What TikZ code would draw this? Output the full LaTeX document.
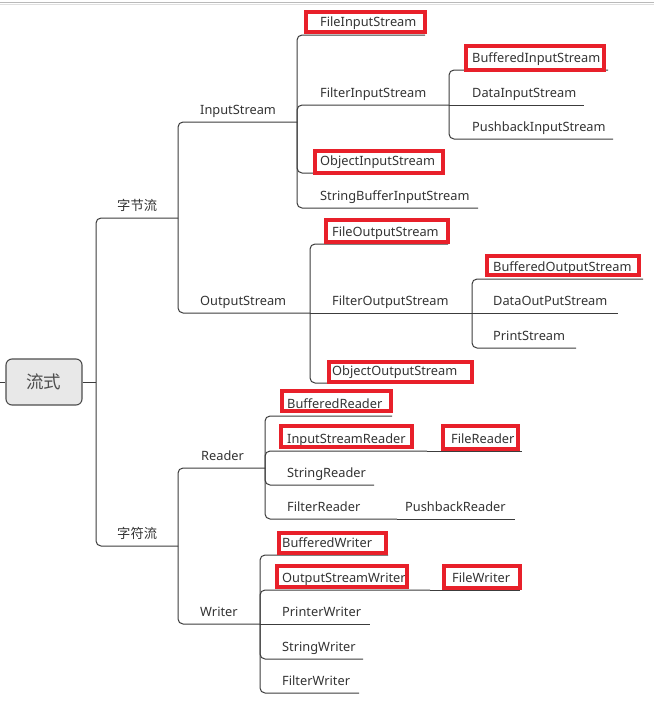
\documentclass[tikz,border=0pt]{standalone}
\usepackage{fontspec}
\setmainfont{Noto Sans}
\newfontfamily\cjk{Noto Sans CJK SC}
\definecolor{ln}{HTML}{3C3C3C}
\definecolor{tx}{HTML}{333333}
\definecolor{hl}{HTML}{E8202A}
\definecolor{rootfill}{HTML}{E8E8E8}
\definecolor{rootdraw}{HTML}{4D4D4D}
\newcommand\mnode[5]{\node[lbl] (#1) at (#2,#3-8) {#5}; \coordinate (#1-e) at (#4,#3);}
\newcommand\redframe[4]{\draw[hlbox] (#1+2,#2+2) rectangle (#3-2,#4-2);}
\begin{document}
\begin{tikzpicture}[x=1pt,y=-1pt,
  lbl/.style={anchor=base west, inner sep=0pt, text=tx, font=\fontsize{12.8}{14}\selectfont},
  clbl/.style={anchor=base west, inner sep=0pt, text=tx, font=\cjk\fontsize{13.3}{15}\selectfont},
  link/.style={draw=ln, line width=1pt, rounded corners=5pt},
  hlbox/.style={draw=hl, line width=4pt},
]
\useasboundingbox (0,0) rectangle (654,704);
\draw[gray!55, line width=1pt] (0,2) -- (654,2);
\draw[gray!25, line width=0.8pt] (0,4.5) -- (654,4.5);

% root
\node[draw=rootdraw, fill=rootfill, line width=1.1pt, rounded corners=6pt,
      minimum width=76pt, minimum height=46pt, inner sep=0pt, text=rootdraw,
      font=\cjk\fontsize{17.5}{20}\selectfont] (root) at (44,382) {流式};
\coordinate (lstub) at (0,382);
\coordinate (rj) at (96,382);
\draw[link] (lstub) -- (root.west);
\draw[link] (root.east) -- (rj);

% level 1
\node[clbl] (zj) at (117,218-8) {字节流}; \coordinate (zj-e) at (178,218);
\node[clbl] (zf) at (117,546-8) {字符流}; \coordinate (zf-e) at (178,546);

% level 2
\mnode{is}{200}{122}{297}{InputStream}
\mnode{os}{200}{313}{310}{OutputStream}
\mnode{rd}{201}{468}{265}{Reader}
\mnode{wr}{200}{624}{260}{Writer}

% InputStream children
\mnode{fis}{320}{35}{425}{FileInputStream}
\mnode{filis}{320}{105}{449}{FilterInputStream}
\mnode{ois}{320}{173}{443}{ObjectInputStream}
\mnode{sbis}{320}{208}{478}{StringBufferInputStream}
\mnode{bis}{472}{70}{608}{BufferedInputStream}
\mnode{dis}{472}{105}{584}{DataInputStream}
\mnode{pis}{472}{139}{613}{PushbackInputStream}

% OutputStream children
\mnode{fos}{332}{244}{448}{FileOutputStream}
\mnode{filos}{332}{313}{472}{FilterOutputStream}
\mnode{oos}{332}{383}{470}{ObjectOutputStream}
\mnode{bos}{493}{279}{643}{BufferedOutputStream}
\mnode{dos}{493}{313}{618}{DataOutPutStream}
\mnode{ps}{493}{348}{576}{PrintStream}

% Reader children
\mnode{br}{287}{416}{392}{BufferedReader}
\mnode{isr}{287}{451}{427}{InputStreamReader}
\mnode{sr}{287}{485}{374}{StringReader}
\mnode{fr}{287}{519}{397}{FilterReader}
\mnode{frd}{451}{451}{522}{FileReader}
\mnode{pbr}{405}{519}{515}{PushbackReader}

% Writer children
\mnode{bw}{282}{555}{388}{BufferedWriter}
\mnode{osw}{282}{590}{430}{OutputStreamWriter}
\mnode{pw}{282}{624}{370}{PrinterWriter}
\mnode{sw}{282}{659}{363}{StringWriter}
\mnode{fw}{282}{693}{359}{FilterWriter}
\mnode{fwr}{452}{590}{520}{FileWriter}

% connectors
\draw[link] (rj) |- (zj-e);
\draw[link] (rj) |- (zf-e);
\draw[link] (zj-e) |- (is-e);
\draw[link] (zj-e) |- (os-e);
\draw[link] (zf-e) |- (rd-e);
\draw[link] (zf-e) |- (wr-e);

\draw[link] (is-e) |- (fis-e);
\draw[link] (is-e) |- (filis-e);
\draw[link] (is-e) |- (ois-e);
\draw[link] (is-e) |- (sbis-e);
\draw[link] (filis-e) |- (bis-e);
\draw[link] (filis-e) -- (dis-e);
\draw[link] (filis-e) |- (pis-e);

\draw[link] (os-e) |- (fos-e);
\draw[link] (os-e) -- (filos-e);
\draw[link] (os-e) |- (oos-e);
\draw[link] (filos-e) |- (bos-e);
\draw[link] (filos-e) -- (dos-e);
\draw[link] (filos-e) |- (ps-e);

\draw[link] (rd-e) |- (br-e);
\draw[link] (rd-e) |- (isr-e);
\draw[link] (rd-e) |- (sr-e);
\draw[link] (rd-e) |- (fr-e);
\draw[link] (isr-e) -- (frd-e);
\draw[link] (fr-e) -- (pbr-e);

\draw[link] (wr-e) |- (bw-e);
\draw[link] (wr-e) |- (osw-e);
\draw[link] (wr-e) -- (pw-e);
\draw[link] (wr-e) |- (sw-e);
\draw[link] (wr-e) |- (fw-e);
\draw[link] (osw-e) -- (fwr-e);

% highlight frames
\redframe{304}{10}{427}{34}
\redframe{464}{44}{606}{72}
\redframe{313}{149}{445}{175}
\redframe{324}{218}{450}{244}
\redframe{485}{254}{641}{277}
\redframe{327}{360}{474}{384}
\redframe{280}{389}{393}{413}
\redframe{279}{424}{414}{449}
\redframe{441}{424}{520}{451}
\redframe{277}{531}{388}{555}
\redframe{275}{564}{409}{589}
\redframe{442}{564}{522}{590}
\end{tikzpicture}
\end{document}
